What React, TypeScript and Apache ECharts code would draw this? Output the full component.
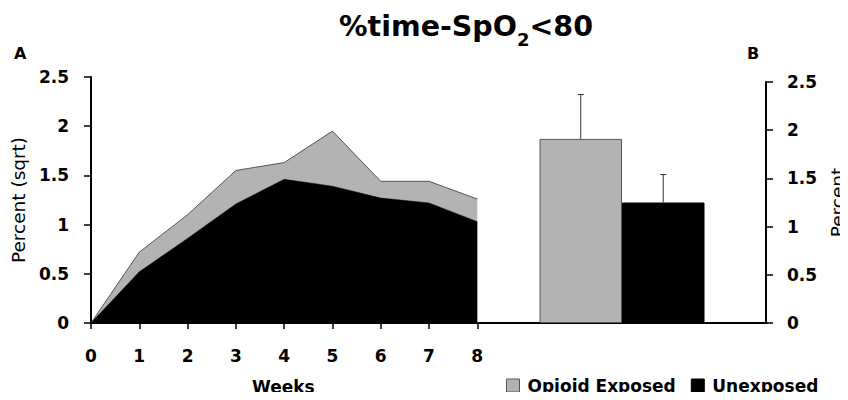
import React, { useEffect, useRef } from "react";
import * as echarts from "echarts";

const weeks = [0, 1, 2, 3, 4, 5, 6, 7, 8];
const exposedWeekly = [0, 0.72, 1.1, 1.55, 1.63, 1.95, 1.44, 1.44, 1.26];
const unexposedWeekly = [0, 0.52, 0.86, 1.21, 1.46, 1.39, 1.27, 1.22, 1.03];
const groups = ["Opioid Exposed", "Unexposed"];
const groupMeans = [1.91, 1.25];
const groupErrUpper = [2.37, 1.54];
const groupColors = ["#b3b3b3", "#000000"];

const FONT = "DejaVu Sans";

export default function App() {
  const ref = useRef<HTMLDivElement>(null);
  useEffect(() => {
    if (!ref.current) return;
    const chart = echarts.init(ref.current, null, { renderer: "svg" });
    const boldLabel = { fontFamily: FONT, fontWeight: "bold", fontSize: 17, color: "#000" };
    const option: any = {
      animation: false,
      backgroundColor: "#fff",
      title: [
        {
          text: "{a|%time-SpO}{s|2}{a|<80}",
          left: 339,
          top: 4,
          padding: 0,
          textStyle: {
            rich: {
              a: { fontFamily: FONT, fontWeight: "bold", fontSize: 28.5, color: "#000", lineHeight: 36 },
              s: { fontFamily: FONT, fontWeight: "bold", fontSize: 18, color: "#000", padding: [26, 0, 0, 0] },
            },
          },
        },
        { text: "A", left: 14, top: 45, padding: 0, textStyle: { fontFamily: FONT, fontWeight: "bold", fontSize: 16, color: "#000" } },
        { text: "B", left: 747, top: 45, padding: 0, textStyle: { fontFamily: FONT, fontWeight: "bold", fontSize: 16, color: "#000" } },
        { text: "Weeks", left: 252, top: 378, padding: 0, textStyle: { fontFamily: FONT, fontWeight: "bold", fontSize: 17, color: "#000" } },
      ],
      legend: {
        left: 506,
        top: 377,
        padding: 0,
        itemWidth: 13,
        itemHeight: 13,
        itemGap: 15,
        icon: "rect",
        textStyle: { fontFamily: FONT, fontWeight: "bold", fontSize: 17, color: "#000", padding: [0, 0, 0, 3] },
        data: [
          { name: groups[0], itemStyle: { color: groupColors[0], borderColor: "#555", borderWidth: 1 } },
          { name: groups[1], itemStyle: { color: groupColors[1], borderColor: "#000", borderWidth: 1 } },
        ],
      },
      grid: [
        { left: 91, right: 81, top: 77, bottom: 77, containLabel: false },
        { left: 539.5, right: 142.5, top: 82, bottom: 77, containLabel: false },
      ],
      xAxis: [
        {
          type: "value",
          gridIndex: 0,
          min: 0,
          max: 14,
          interval: 1,
          axisLine: { show: true, onZero: false, lineStyle: { color: "#000", width: 2 } },
          axisTick: { show: true, length: 6, customValues: weeks, lineStyle: { color: "#000", width: 1.5 } },
          axisLabel: { ...boldLabel, margin: 24, customValues: weeks },
          splitLine: { show: false },
        },
        {
          type: "category",
          gridIndex: 1,
          data: groups,
          show: false,
        },
      ],
      yAxis: [
        {
          type: "value",
          gridIndex: 0,
          min: 0,
          max: 2.5,
          interval: 0.5,
          axisLine: { show: true, lineStyle: { color: "#000", width: 2 } },
          axisTick: { show: true, length: 7, lineStyle: { color: "#000", width: 1.5 } },
          axisLabel: { ...boldLabel, margin: 22 },
          splitLine: { show: false },
          name: "Percent (sqrt)",
          nameLocation: "middle",
          nameRotate: 90,
          nameGap: 57,
          nameTextStyle: { fontFamily: FONT, fontSize: 18.5, color: "#000" },
        },
        {
          type: "value",
          gridIndex: 1,
          position: "right",
          offset: 61.5,
          min: 0,
          max: 2.5,
          interval: 0.5,
          axisLine: { show: true, lineStyle: { color: "#000", width: 2 } },
          axisTick: { show: true, length: 7, lineStyle: { color: "#000", width: 1.5 } },
          axisLabel: { ...boldLabel, margin: 21 },
          splitLine: { show: false },
          name: "Percent",
          nameLocation: "middle",
          nameRotate: 90,
          nameGap: 62,
          nameTextStyle: { fontFamily: FONT, fontSize: 18.5, color: "#000" },
        },
      ],
      series: [
        {
          name: groups[0],
          type: "line",
          xAxisIndex: 0,
          yAxisIndex: 0,
          data: weeks.map((w, i) => [w, exposedWeekly[i]]),
          symbol: "none",
          lineStyle: { color: "#555", width: 1 },
          itemStyle: { color: groupColors[0] },
          areaStyle: { color: groupColors[0], opacity: 1 },
          z: 2,
        },
        {
          name: groups[1],
          type: "line",
          xAxisIndex: 0,
          yAxisIndex: 0,
          data: weeks.map((w, i) => [w, unexposedWeekly[i]]),
          symbol: "none",
          lineStyle: { color: "#000", width: 0.5 },
          itemStyle: { color: groupColors[1] },
          areaStyle: { color: groupColors[1], opacity: 1 },
          z: 3,
        },
        {
          name: "Mean",
          type: "bar",
          xAxisIndex: 1,
          yAxisIndex: 1,
          barCategoryGap: 0,
          data: groupMeans.map((v, i) => ({
            value: v,
            itemStyle: { color: groupColors[i], borderColor: i === 0 ? "#555" : "#000", borderWidth: 1 },
          })),
          z: 2,
        },
        {
          name: "Error",
          type: "custom",
          xAxisIndex: 1,
          yAxisIndex: 1,
          data: groupMeans.map((v, i) => [i, v, groupErrUpper[i]]),
          renderItem: (params: any, api: any) => {
            const p0 = api.coord([api.value(0), api.value(1)]);
            const p1 = api.coord([api.value(0), api.value(2)]);
            const style = { stroke: "#333", lineWidth: 1 };
            return {
              type: "group",
              children: [
                { type: "line", shape: { x1: p0[0], y1: p0[1], x2: p1[0], y2: p1[1] }, style },
                { type: "line", shape: { x1: p1[0] - 3, y1: p1[1], x2: p1[0] + 3, y2: p1[1] }, style },
              ],
            };
          },
          z: 4,
        },
      ],
    };
    chart.setOption(option);
    return () => chart.dispose();
  }, []);
  return <div ref={ref} style={{ width: 848, height: 400, margin: -8 }} />;
}
